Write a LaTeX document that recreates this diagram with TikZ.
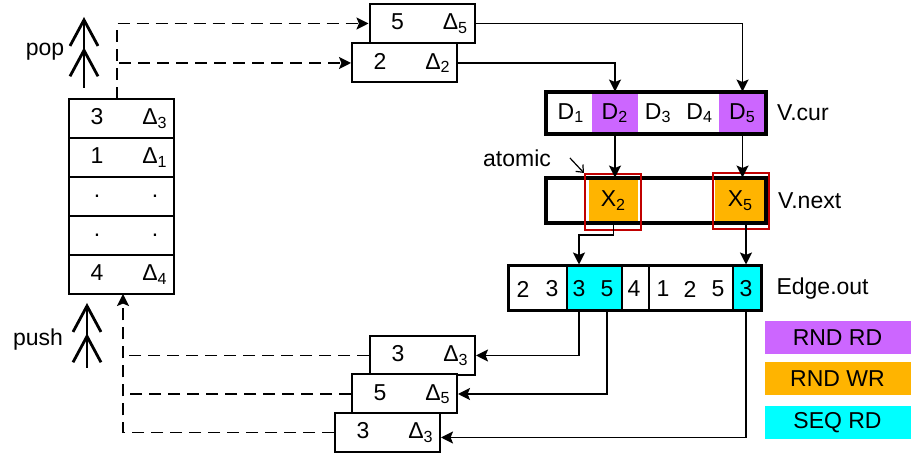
\documentclass[tikz,border=0pt]{standalone}
\usepackage{fontspec}
\setmainfont{Liberation Sans}
\usepackage{tikz}
\usetikzlibrary{calc, positioning, arrows.meta}
\definecolor{roxo}{RGB}{204,102,255}
\definecolor{laranja}{RGB}{255,180,0}
\definecolor{ciano}{RGB}{0,255,255}
\definecolor{vermelho}{RGB}{192,0,0}
\newcommand{\pardelta}[2]{\noindent\makebox[24pt]{#1}\hfill\makebox[15pt]{#2}}

\begin{document}
\begin{tikzpicture}[x=0.5pt, y=-0.5pt, font=\fontsize{11.5}{13}\selectfont]
    \useasboundingbox (0,0) rectangle (911,458);

    % Definindo os estilos
    \tikzstyle{caixa} = [rectangle, draw, fill=white, line width=1pt, text width=48.5pt, inner xsep=2pt, inner ysep=0pt, minimum height=19.5pt]
    \tikzstyle{celula} = [rectangle, inner sep=0pt, minimum height=21pt]
    \tikzstyle{borda} = [rectangle, draw, line width=2pt, inner sep=0pt]
    \tikzstyle{aresta} = [rectangle, draw, line width=1pt, inner sep=0pt, minimum height=22.5pt]
    \tikzstyle{atomica} = [rectangle, draw=vermelho, line width=1pt, inner sep=0pt, minimum size=28pt]
    \tikzstyle{legenda} = [rectangle, inner sep=0pt, minimum width=73pt, minimum height=16.5pt, text centered]
    \tikzstyle{line} = [draw, line width=0.9pt, -{Stealth[length=6pt, width=6pt, inset=1.2pt]}]
    \tikzstyle{linha_tracejada} = [draw, line width=0.9pt, dash pattern=on 6pt off 3.5pt]
    \tikzstyle{seta_tracejada} = [linha_tracejada, -{Stealth[length=6pt, width=6pt, inset=1.2pt]}]
    \tikzstyle{seta_dupla} = [draw, line width=1.4pt, -{Straight Barb[length=13pt, width=14pt, sep=0pt] Straight Barb[length=13pt, width=14pt]}]
    \tikzstyle{seta_fina} = [draw, line width=0.6pt, -{Straight Barb[length=3pt, width=5pt]}]

    % Pilha
    \node [caixa] (s1) at (121.5,118.5) {\pardelta{3}{Δ\textsubscript{3}}};
    \node [caixa] (s2) at (121.5,157.5) {\pardelta{1}{Δ\textsubscript{1}}};
    \node [caixa] (s3) at (121.5,196.5) {\pardelta{.}{.}};
    \node [caixa] (s4) at (121.5,235.5) {\pardelta{.}{.}};
    \node [caixa] (s5) at (121.5,274.5) {\pardelta{4}{Δ\textsubscript{4}}};

    % pop e push
    \coordinate (pop_base) at (84,88);
    \coordinate (pop_topo) at (84,17);
    \node (pop) at (45,52) {pop};
    \coordinate (push_base) at (87,368);
    \coordinate (push_topo) at (87,303);
    \node (push) at (38,340) {push};
    \path [seta_dupla] (pop_base) -- (pop_topo);
    \path [seta_dupla] (push_base) -- (push_topo);

    % Elementos retirados da pilha
    \node [caixa] (v5) at (422,23.5) {\pardelta{5}{Δ\textsubscript{5}}};
    \node [caixa] (v2) at (404.5,63) {\pardelta{2}{Δ\textsubscript{2}}};

    % Elementos empilhados
    \node [caixa] (b1) at (422.5,355.5) {\pardelta{3}{Δ\textsubscript{3}}};
    \node [caixa] (b2) at (404.5,394) {\pardelta{5}{Δ\textsubscript{5}}};
    \node [caixa] (b3) at (387.5,432.5) {\pardelta{3}{Δ\textsubscript{3}}};

    % V.cur
    \node [celula, minimum width=23pt] (d1) at (571,113) {D\textsubscript{1}};
    \node [celula, fill=roxo, minimum width=23pt] (d2) at (615,113) {D\textsubscript{2}};
    \node [celula, minimum width=20.25pt] (d3) at (658.25,113) {D\textsubscript{3}};
    \node [celula, minimum width=20.25pt] (d4) at (699.75,113) {D\textsubscript{4}};
    \node [celula, fill=roxo, minimum width=23.5pt] (d5) at (742.5,113) {D\textsubscript{5}};
    \node [borda, minimum width=110pt, minimum height=21pt] (vcur) at (656,113) {};
    \node [right=1pt of vcur] (vcur_rot) {V.cur};

    % V.next
    \node [celula, fill=laranja, minimum width=24.5pt, minimum height=22.5pt] (x2) at (613.5,200.5) {X\textsubscript{2}};
    \node [celula, fill=laranja, minimum width=25.5pt, minimum height=22.5pt] (x5) at (740.5,200.5) {X\textsubscript{5}};
    \node [borda, minimum width=110pt, minimum height=22.5pt] (vnext) at (656,200.5) {};
    \node [right=1.5pt of vnext] (vnext_rot) {V.next};
    \node [atomica] (r2) at (613,202) {};
    \node [atomica] (r5) at (741,201) {};
    \node (atomic) at (517,158) {atomic};

    % Edge.out
    \node [aresta, minimum width=29.5pt] (ea) at (537.5,288.5) {};
    \node [aresta, fill=ciano, minimum width=27.5pt] (eb) at (594.5,288.5) {};
    \node [aresta, minimum width=13.5pt] (ec) at (635.5,288.5) {};
    \node [aresta, minimum width=42pt] (ed) at (691,288.5) {};
    \node [aresta, fill=ciano, minimum width=14pt] (ee) at (747,288.5) {};
    \node [borda, line width=1.5pt, minimum width=126.5pt, minimum height=22.5pt] (edge) at (634.5,288.5) {};
    \node (n1) at (523,289) {2};
    \node (n2) at (552,289) {3};
    \node (n3) at (579,289) {3};
    \node (n4) at (607,289) {5};
    \node (n5) at (634,289) {4};
    \node (n6) at (663,289) {1};
    \node (n7) at (690,289) {2};
    \node (n8) at (718,289) {5};
    \node (n9) at (746,289) {3};
    \node [right=3.5pt of edge] (edge_rot) {Edge.out};

    % Legenda
    \node [legenda, fill=roxo] (rnd_rd) at (837.5,337.5) {RND RD};
    \node [legenda, fill=laranja] (rnd_wr) at (837.5,379) {RND WR};
    \node [legenda, fill=ciano] (seq_rd) at (837.5,422.5) {SEQ RD};

    % Linhas tracejadas da pilha
    \coordinate (topo) at (117,99);
    \coordinate (base) at (123,294);
    \path [seta_tracejada] (topo) |- (v5.west);
    \path [seta_tracejada] (topo) |- (v2.west);
    \path [linha_tracejada] (b1.west) -- (b1.west -| base);
    \path [linha_tracejada] (b2.west) -- (b2.west -| base);
    \path [seta_tracejada] (b3.west) -| (base);

    % Acessos aos vetores
    \path [line] (v5.east) -| (d5.north);
    \path [line] (v2.east) -| (d2.north);
    \path [line] (d2.south) -- (d2.south |- x2.north);
    \path [line] (d5.south) -- (d5.south |- x5.north);
    \path [seta_fina] ([xshift=6pt]atomic.east) -- (r2.north west);

    % Leitura das arestas
    \path [line] (x2.south) -- ++(0,12) -| (n3 |- edge.north);
    \path [line] (n9 |- x5.south) -- (n9 |- edge.north);
    \path [line] (n3 |- edge.south) |- (b1.east);
    \path [line] (n4 |- edge.south) |- (b2.east);
    \path [line] (n9 |- edge.south) |- ([yshift=-2.5pt]b3.east);
\end{tikzpicture}
\end{document}
